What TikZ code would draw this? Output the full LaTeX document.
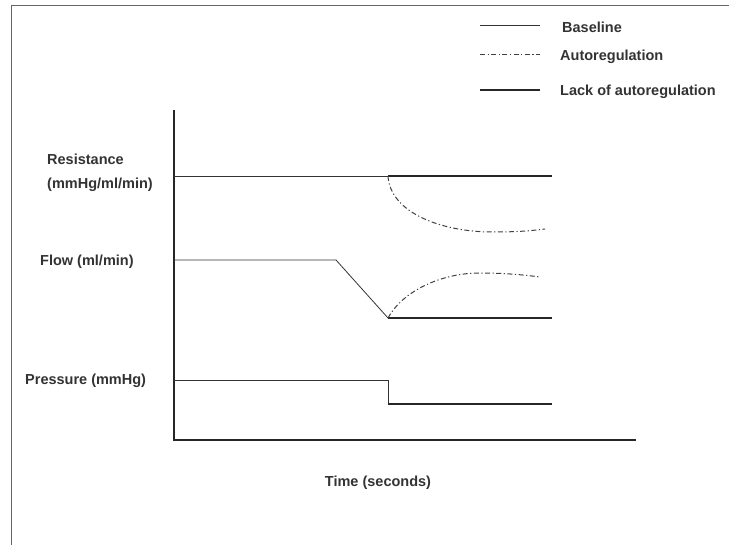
\documentclass[tikz,border=0pt]{standalone}
\usepackage{fontspec}
\setmainfont{Liberation Sans}
\usetikzlibrary{positioning}

\begin{document}
\begin{tikzpicture}[
				x = 1pt, y = -1pt, % pixel grid, y downwards
				font = \fontsize{14.5}{16}\selectfont\bfseries,
				lbl/.style = {text = black!80, inner sep = 0pt, anchor = west},
				base/.style = {draw = black!80, line width = 0.8pt},
				lack/.style = {draw = black!85, line width = 2.2pt},
				autoreg/.style = {draw = black!75, line width = 1pt, dash pattern = on 5pt off 2.5pt on 1.2pt off 2.5pt},
				axis/.style = {draw = black!85, line width = 1.5pt}
				]
				
				\useasboundingbox (0,0) rectangle (729,545);
				
				% frame
				\draw[black!60, line width = 1pt] (11,545) -- (11,6) -- (729,6);
				
				% axes
				\coordinate (top) at (174,110);
				\coordinate (orig) at (174,440);
				\coordinate (xend) at (636,440);
				\draw[axis] (top) -- (orig) -- (xend);
				
				% labels
				\node[lbl] (res) at (47,159) {Resistance};
				\node[lbl] (resu) at (47,185) {(mmHg/ml/min)};
				\node[lbl] (flow) at (40,262) {Flow (ml/min)};
				\node[lbl] (pres) at (25,381) {Pressure (mmHg)};
				\node[text = black!80, inner sep = 0pt] (time) at (378,483) {Time (seconds)};
				
				% legend
				\coordinate (l1a) at (480,25); \coordinate (l1b) at (540,25);
				\coordinate (l2a) at (480,55); \coordinate (l2b) at (540,55);
				\coordinate (l3a) at (480,90); \coordinate (l3b) at (540,90);
				\path[base] (l1a) edge (l1b);
				\path[autoreg] (l2a) edge (l2b);
				\path[lack] (l3a) edge (l3b);
				\node[lbl] (k1) at (562,27) {Baseline};
				\node[lbl] (k2) at (560,57) {Autoregulation};
				\node[lbl] (k3) at (560,92) {Lack of autoregulation};
				
				% resistance
				\coordinate (r0) at (174,176);
				\coordinate (r1) at (388,176);
				\coordinate (r2) at (552,176);
				\coordinate (r3) at (545,229);
				\draw[base] (r0) -- (r1);
				\draw[lack] (r1) -- (r2);
				\draw[autoreg] (r1) .. controls (390,212) and (440,232) .. (493,232) .. controls (515,232) and (530,231) .. (r3);
				
				% flow
				\coordinate (f0) at (174,260);
				\coordinate (f1) at (336,260);
				\coordinate (f2) at (388,318);
				\coordinate (f3) at (552,318);
				\coordinate (f4) at (540,277);
				\draw[base] (f0) -- (f1) -- (f2);
				\draw[lack] (f2) -- (f3);
				\draw[autoreg] (f2) .. controls (402,292) and (440,273) .. (480,273) .. controls (505,273) and (525,275) .. (f4);
				
				% pressure
				\coordinate (p0) at (174,380);
				\coordinate (p1) at (388,380);
				\coordinate (p2) at (388,404);
				\coordinate (p3) at (552,404);
				\draw[base] (p0) -- (p1) -- (p2);
				\draw[lack] (p2) -- (p3);
				
			\end{tikzpicture}
\end{document}
